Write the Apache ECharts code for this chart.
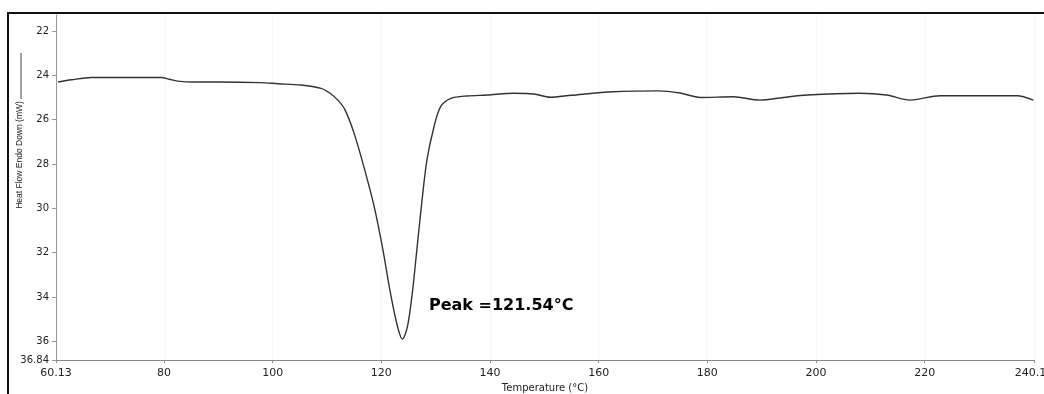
<!DOCTYPE html>
<html>
<head>
<meta charset="utf-8">
<script src="https://cdn.jsdelivr.net/npm/echarts@6/dist/echarts.min.js"></script>
<style>html,body{margin:0;padding:0;background:#fff}#c{width:1044px;height:394px}</style>
</head>
<body>
<div id="c"></div>
<script>
const temperature = [60.5, 63, 66.6, 72, 79.5, 81, 82.5, 85.5, 90, 97.8, 101, 105.2, 108.9, 110.5, 112.0, 113.3, 115.0, 116.8, 118.7, 120.2, 121.7, 123.0, 123.9, 124.8, 125.7, 126.6, 127.5, 128.4, 129.7, 130.9, 132.8, 135.8, 139.5, 144.4, 148.1, 151.1, 155, 162.7, 171, 175, 178.7, 184.8, 189.7, 194, 198.4, 208, 213, 217.3, 222.8, 230, 237, 240];
const heatFlow = [24.3, 24.2, 24.1, 24.1, 24.1, 24.18, 24.26, 24.3, 24.3, 24.33, 24.38, 24.44, 24.59, 24.8, 25.12, 25.55, 26.62, 28.13, 29.93, 31.74, 33.84, 35.35, 35.9, 35.35, 33.84, 31.74, 29.63, 27.82, 26.32, 25.42, 25.04, 24.93, 24.89, 24.81, 24.84, 24.99, 24.9, 24.74, 24.7, 24.8, 25.0, 24.97, 25.12, 25.0, 24.89, 24.81, 24.89, 25.12, 24.92, 24.92, 24.92, 25.12];
const xTicks = [60.13, 80, 100, 120, 140, 160, 180, 200, 220, 240.13];
const yTicks = [22, 24, 26, 28, 30, 32, 34, 36, 36.84];
const xRange = [60.13, 240.13];
const yRange = [21.28, 36.84];
const peakLabel = 'Peak =121.54°C';
const peakPoint = [123.9, 35.9];
const xName = 'Temperature (°C)';
const yName = 'Heat Flow Endo Down (mW)';

const chart = echarts.init(document.getElementById('c'));
const pts = temperature.map((t, i) => [t, heatFlow[i]]);
chart.setOption({
  animation: false,
  backgroundColor: '#fff',
  grid: { left: 56, right: 10, top: 15, bottom: 34, containLabel: false, outerBoundsMode: 'none' },
  xAxis: {
    type: 'value', min: xRange[0], max: xRange[1],
    name: xName, nameLocation: 'middle', nameGap: 22,
    nameTextStyle: { fontFamily: 'DejaVu Sans', fontSize: 10, color: '#222' },
    axisLine: { lineStyle: { color: '#888', width: 1 } },
    axisTick: { customValues: xTicks, length: 3, lineStyle: { color: '#888' } },
    axisLabel: { customValues: xTicks, fontFamily: 'DejaVu Sans', fontSize: 11, color: '#222', margin: 8,
      hideOverlap: false, showMaxLabel: true, showMinLabel: true, formatter: v => String(v) },
    splitLine: { show: true, lineStyle: { color: '#eeeeee', type: 'dotted' } }
  },
  yAxis: {
    type: 'value', inverse: true, min: yRange[0], max: yRange[1],
    axisLine: { show: true, lineStyle: { color: '#999', width: 1 } },
    axisTick: { show: true, customValues: yTicks, length: 4, lineStyle: { color: '#999' } },
    axisLabel: { customValues: yTicks, fontFamily: 'DejaVu Sans', fontSize: 10, color: '#222', margin: 7,
      formatter: v => String(v) },
    splitLine: { show: false }
  },
  graphic: [
    { type: 'rect', shape: { x: 8, y: 13, width: 1100, height: 420 }, style: { fill: 'none', stroke: '#111', lineWidth: 2 }, z: 100, silent: true },
    { type: 'text', x: 20, y: 155, rotation: Math.PI / 2, style: { text: yName, fontFamily: 'Liberation Sans', fontSize: 8.5, fill: '#222', align: 'center', verticalAlign: 'middle' } },
    { type: 'line', shape: { x1: 21, y1: 53, x2: 21, y2: 99 }, style: { stroke: '#444', lineWidth: 1 } }
  ],
  series: [{
    type: 'line', data: pts, showSymbol: false, smooth: 0.3,
    lineStyle: { color: '#333', width: 1.4 },
    markPoint: {
      symbol: 'circle', symbolSize: 1, itemStyle: { color: 'rgba(0,0,0,0)' },
      data: [{ coord: peakPoint, value: peakLabel }],
      label: { show: true, formatter: peakLabel, position: [27, -33], align: 'left', verticalAlign: 'middle',
        fontFamily: 'DejaVu Sans', fontWeight: 'bold', fontSize: 16, color: '#000' }
    }
  }]
});
</script>
</body>
</html>
